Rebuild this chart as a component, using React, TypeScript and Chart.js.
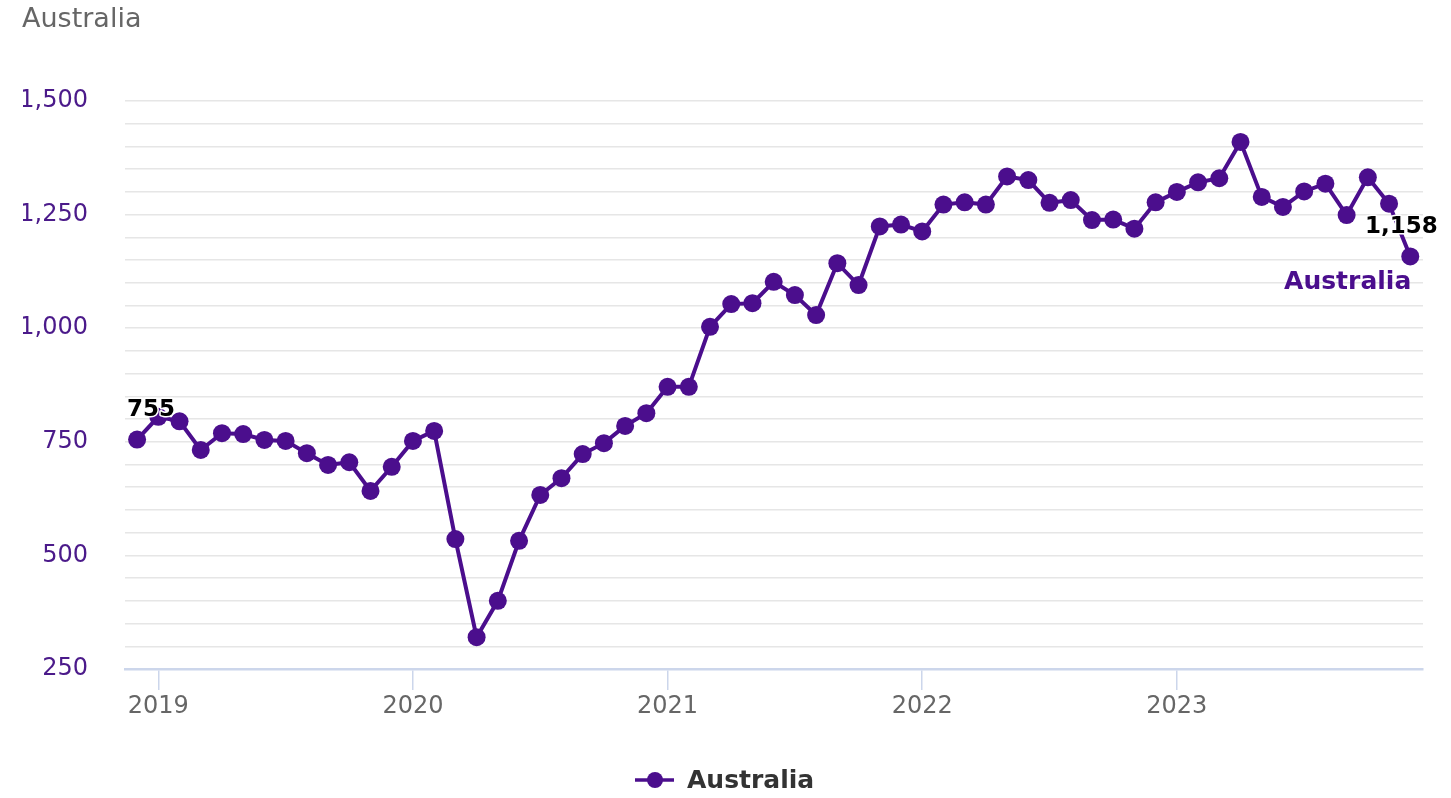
import React, { useEffect, useRef } from "react";
import { Chart, registerables } from "chart.js";

Chart.register(...registerables);

const chartTitle = "Australia";
const seriesName = "Australia";

const categories = [
  "2018-12",
  "2019-01", "2019-02", "2019-03", "2019-04", "2019-05", "2019-06", "2019-07", "2019-08", "2019-09", "2019-10", "2019-11", "2019-12",
  "2020-01", "2020-02", "2020-03", "2020-04", "2020-05", "2020-06", "2020-07", "2020-08", "2020-09", "2020-10", "2020-11", "2020-12",
  "2021-01", "2021-02", "2021-03", "2021-04", "2021-05", "2021-06", "2021-07", "2021-08", "2021-09", "2021-10", "2021-11", "2021-12",
  "2022-01", "2022-02", "2022-03", "2022-04", "2022-05", "2022-06", "2022-07", "2022-08", "2022-09", "2022-10", "2022-11", "2022-12",
  "2023-01", "2023-02", "2023-03", "2023-04", "2023-05", "2023-06", "2023-07", "2023-08", "2023-09", "2023-10", "2023-11", "2023-12",
];

const values = [
  755,
  805, 795, 732, 769, 767, 754, 752, 725, 699, 705, 642, 695,
  752, 774, 536, 320, 400, 532, 633, 670, 723, 747, 785, 813,
  871, 871, 1003, 1053, 1055, 1102, 1073, 1029, 1143, 1095, 1224, 1228,
  1213, 1272, 1277, 1272, 1334, 1326, 1276, 1282, 1238, 1239, 1219, 1277,
  1300, 1321, 1330, 1410, 1289, 1267, 1301, 1318, 1249, 1332, 1274, 1158,
];

const xTickCategories = ["2019-01", "2020-01", "2021-01", "2022-01", "2023-01"];
const xTickLabels = ["2019", "2020", "2021", "2022", "2023"];
const yMin = 250;
const yMax = 1500;
const yMinorStep = 50;
const yLabelStep = 250;

const PURPLE = "#4b0e8d";
const FONT = '"DejaVu Sans", Verdana, sans-serif';

const fmt = (v: number) => v.toLocaleString("en-US");

const overlayPlugin = {
  id: "overlay",
  beforeDraw(chart: any) {
    const ctx = chart.ctx as CanvasRenderingContext2D;
    ctx.save();
    ctx.beginPath();
    ctx.rect(23, 0, chart.width, chart.height);
    ctx.clip();
  },
  afterDraw(chart: any) {
    const ctx = chart.ctx as CanvasRenderingContext2D;
    ctx.restore();
    ctx.save();
    // title
    ctx.font = `27px ${FONT}`;
    ctx.fillStyle = "#666666";
    ctx.textAlign = "left";
    ctx.textBaseline = "middle";
    ctx.fillText(chartTitle, 22, 20);

    // data labels on first and last points
    const meta = chart.getDatasetMeta(0);
    const first = meta.data[0];
    const last = meta.data[meta.data.length - 1];
    ctx.font = `bold 23px ${FONT}`;
    ctx.textAlign = "center";
    ctx.lineJoin = "round";
    ctx.lineWidth = 3;
    ctx.strokeStyle = "#ffffff";
    ctx.fillStyle = "#000000";
    const t1 = fmt(values[0]);
    ctx.strokeText(t1, first.x + 14, first.y - 29);
    ctx.fillText(t1, first.x + 14, first.y - 29);
    const t2 = fmt(values[values.length - 1]);
    ctx.strokeText(t2, last.x - 9, last.y - 29);
    ctx.fillText(t2, last.x - 9, last.y - 29);

    // series end label
    ctx.font = `bold 25px ${FONT}`;
    ctx.textAlign = "right";
    ctx.fillStyle = PURPLE;
    ctx.fillText(seriesName, last.x + 1, last.y + 26);

    // legend
    const lx = 655;
    const ly = 780;
    ctx.strokeStyle = PURPLE;
    ctx.lineWidth = 3.5;
    ctx.beginPath();
    ctx.moveTo(lx - 20, ly);
    ctx.lineTo(lx + 19, ly);
    ctx.stroke();
    ctx.fillStyle = PURPLE;
    ctx.beginPath();
    ctx.arc(lx, ly, 8, 0, Math.PI * 2);
    ctx.fill();
    ctx.font = `bold 25px ${FONT}`;
    ctx.fillStyle = "#333333";
    ctx.textAlign = "left";
    ctx.fillText(seriesName, 687, ly + 1);
    ctx.restore();
  },
};

export default function App() {
  const canvasRef = useRef<HTMLCanvasElement | null>(null);

  useEffect(() => {
    if (!canvasRef.current) return;
    const tickIdx = xTickCategories.map((c) => categories.indexOf(c));
    const chart = new Chart(canvasRef.current, {
      type: "line",
      data: {
        datasets: [
          {
            label: seriesName,
            data: values.map((v, i) => ({ x: i, y: v })),
            borderColor: PURPLE,
            backgroundColor: PURPLE,
            borderWidth: 4,
            pointRadius: 9,
            pointBackgroundColor: PURPLE,
            pointBorderWidth: 0,
            tension: 0,
          },
        ],
      },
      options: {
        animation: false,
        responsive: true,
        maintainAspectRatio: false,
        events: [],
        layout: { padding: { left: 8, right: 28, top: 101, bottom: 69 } },
        plugins: {
          legend: { display: false },
          title: { display: false },
          tooltip: { enabled: false },
        },
        scales: {
          x: {
            type: "linear",
            min: -0.57,
            max: categories.length - 1 + 0.6,
            afterBuildTicks: (scale: any) => {
              scale.ticks = tickIdx.map((v) => ({ value: v }));
            },
            afterFit: (scale: any) => {
              scale.height = 60;
            },
            ticks: {
              autoSkip: false,
              maxRotation: 0,
              padding: 2,
              color: "#666666",
              font: { family: FONT, size: 24 },
              callback: (v: any) => {
                const k = tickIdx.indexOf(Number(v));
                return k >= 0 ? xTickLabels[k] : null;
              },
            },
            grid: {
              drawOnChartArea: false,
              drawTicks: true,
              tickLength: 21,
              color: "#ccd6eb",
              lineWidth: 1.5,
            },
            border: { display: true, color: "#ccd6eb", width: 2.5 },
          },
          y: {
            type: "linear",
            min: yMin,
            max: yMax,
            afterFit: (scale: any) => {
              scale.width = 117;
            },
            ticks: {
              stepSize: yMinorStep,
              autoSkip: false,
              padding: 37,
              color: "#4b1a8a",
              font: { family: FONT, size: 24 },
              callback: (v: any) => (Number(v) % yLabelStep === 0 ? fmt(Number(v)) : ""),
            },
            grid: { color: "#e6e6e6", lineWidth: 1.5, drawTicks: false },
            border: { display: false },
          },
        },
      },
      plugins: [overlayPlugin],
    } as any);
    return () => chart.destroy();
  }, []);

  return (
    <div style={{ position: "fixed", left: 0, top: 0, width: "100vw", height: "100vh", background: "#fff" }}>
      <canvas ref={canvasRef} />
    </div>
  );
}
